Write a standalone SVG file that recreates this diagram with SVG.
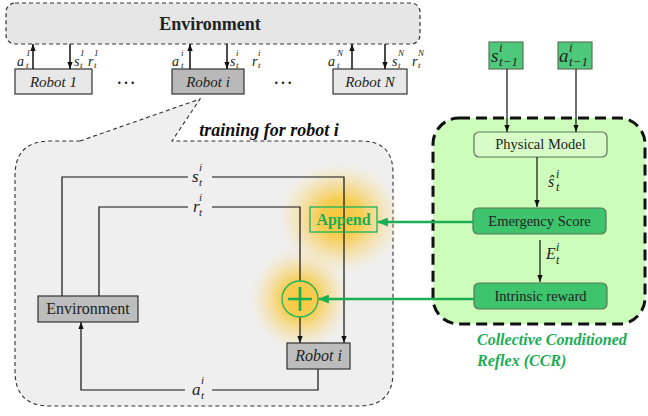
<svg xmlns="http://www.w3.org/2000/svg" width="648" height="416" viewBox="0 0 648 416">
<defs>
<style>
text{font-family:"Liberation Serif","Times New Roman","Nimbus Roman","DejaVu Serif",serif}
.ln{fill:none;stroke:#111;stroke-width:1.2}
.lnt{fill:none;stroke:#111;stroke-width:1.5}
.gr{fill:none;stroke:#1aae55;stroke-width:2.6}
.rt{fill:#222}
.it{font-style:italic;fill:#222}
.m{font-style:italic;fill:#222}
.box{stroke:#333;stroke-width:1.2}
.ccrb{stroke:#5d7658;stroke-width:1.2}
</style>
<marker id="ah" viewBox="0 0 8 6" refX="8" refY="3" markerWidth="7" markerHeight="6" markerUnits="userSpaceOnUse" orient="auto"><path d="M0,0 L8,3 L0,6 z" fill="#111"/></marker>
<marker id="ahg" viewBox="0 0 10 8" refX="9" refY="4" markerWidth="11" markerHeight="9" markerUnits="userSpaceOnUse" orient="auto"><path d="M0,0 L10,4 L0,8 z" fill="#1aae55"/></marker>
<radialGradient id="glow">
<stop offset="0" stop-color="#f8c52c" stop-opacity="0.95"/>
<stop offset="0.35" stop-color="#f8c83a" stop-opacity="0.85"/>
<stop offset="0.65" stop-color="#f9d060" stop-opacity="0.45"/>
<stop offset="1" stop-color="#fbe4a0" stop-opacity="0"/>
</radialGradient>
</defs>

<!-- Top environment -->
<g id="env-top">
<rect x="6" y="3" width="414" height="41" rx="9" fill="#e6e6e6" stroke="#333" stroke-width="1.2" stroke-dasharray="4 3"/>
<text x="210" y="30" text-anchor="middle" font-weight="bold" font-size="18" fill="#222">Environment</text>
</g>

<g id="robot1">
<rect x="15" y="69" width="77" height="25" fill="#e8e8e8" class="box"/>
<text x="53.5" y="87" text-anchor="middle" class="it" font-size="15">Robot 1</text>
</g>
<g id="roboti-top">
<rect x="172" y="69" width="72" height="25" fill="#b9b9b9" class="box"/>
<text x="208" y="87" text-anchor="middle" class="it" font-size="15">Robot i</text>
</g>
<g id="robotN">
<rect x="333" y="69" width="74" height="25" fill="#e8e8e8" class="box"/>
<text x="370" y="87" text-anchor="middle" class="it" font-size="15">Robot N</text>
</g>
<text x="126" y="84" text-anchor="middle" class="rt" font-size="20">…</text>
<text x="283" y="84" text-anchor="middle" class="rt" font-size="20">…</text>

<!-- top connectors -->
<g id="top-connectors">
<line x1="33" y1="69" x2="33" y2="44" class="lnt" marker-end="url(#ah)"/>
<line x1="70" y1="44" x2="70" y2="69" class="lnt" marker-end="url(#ah)"/>
<line x1="190" y1="69" x2="190" y2="44" class="lnt" marker-end="url(#ah)"/>
<line x1="227" y1="44" x2="227" y2="69" class="lnt" marker-end="url(#ah)"/>
<line x1="352" y1="69" x2="352" y2="44" class="lnt" marker-end="url(#ah)"/>
<line x1="385" y1="44" x2="385" y2="69" class="lnt" marker-end="url(#ah)"/>
</g>
<g id="top-labels">
<text x="17" y="66" font-size="14" class="m">a</text><text x="26" y="56" font-size="9" class="m">1</text><text x="26" y="68" font-size="9" class="m">t</text>
<text x="74" y="66" font-size="14" class="m">s</text><text x="80" y="56" font-size="9" class="m">1</text><text x="80" y="68" font-size="9" class="m">t</text>
<text x="88" y="66" font-size="14" class="m">r</text><text x="94" y="56" font-size="9" class="m">1</text><text x="94" y="68" font-size="9" class="m">t</text>

<text x="172" y="66" font-size="14" class="m">a</text><text x="181" y="56" font-size="9" class="m">i</text><text x="181" y="68" font-size="9" class="m">t</text>
<text x="230" y="66" font-size="14" class="m">s</text><text x="236" y="56" font-size="9" class="m">i</text><text x="236" y="68" font-size="9" class="m">t</text>
<text x="252" y="66" font-size="14" class="m">r</text><text x="258" y="56" font-size="9" class="m">i</text><text x="258" y="68" font-size="9" class="m">t</text>

<text x="328" y="66" font-size="14" class="m">a</text><text x="337" y="56" font-size="9" class="m">N</text><text x="337" y="68" font-size="9" class="m">t</text>
<text x="392" y="66" font-size="14" class="m">s</text><text x="398" y="56" font-size="9" class="m">N</text><text x="398" y="68" font-size="9" class="m">t</text>
<text x="412" y="66" font-size="14" class="m">r</text><text x="418" y="56" font-size="9" class="m">N</text><text x="418" y="68" font-size="9" class="m">t</text>
</g>

<!-- callout -->
<g id="callout">
<path d="M80 141 L200 99 L172 141 L361 141 Q393 141 393 173 L393 372 Q393 406 359 406 L50 406 Q15 406 15 371 L15 176 Q15 141 50 141 Z" fill="#efefef" stroke="none"/>
<path d="M80 141 L200 99 L172 141 L361 141 Q393 141 393 173 L393 372 Q393 406 359 406 L50 406 Q15 406 15 371 L15 176 Q15 141 50 141 L80 141" fill="none" stroke="#333" stroke-width="1.1" stroke-dasharray="4 3"/>
<text x="269" y="136" text-anchor="middle" font-weight="bold" font-style="italic" font-size="18" fill="#111">training for robot i</text>
</g>

<!-- glows -->
<ellipse cx="340" cy="218" rx="62" ry="56" fill="url(#glow)"/>
<ellipse cx="300" cy="299" rx="50" ry="52" fill="url(#glow)"/>

<!-- inner connectors -->
<g id="inner-connectors">
<polyline points="62,296 62,177 188,177" class="ln"/>
<polyline points="212,177 344,177 344,343" class="ln" marker-end="url(#ah)"/>
<polyline points="99,296 99,207 188,207" class="ln"/>
<polyline points="212,207 300,207 300,281" class="ln"/>
<line x1="300" y1="317" x2="300" y2="343" class="ln" marker-end="url(#ah)"/>
<polyline points="318,369 318,390 212,390" class="ln"/>
<polyline points="185,390 81,390 81,322" class="ln" marker-end="url(#ah)"/>
</g>
<g id="inner-labels">
<text x="192" y="182" font-size="17" class="m">s</text><text x="199" y="171" font-size="11" class="m">i</text><text x="199" y="186" font-size="11" class="m">t</text>
<text x="193" y="212" font-size="17" class="m">r</text><text x="199" y="201" font-size="11" class="m">i</text><text x="199" y="216" font-size="11" class="m">t</text>
<text x="192" y="395" font-size="17" class="m">a</text><text x="201" y="384" font-size="11" class="m">i</text><text x="201" y="399" font-size="11" class="m">t</text>
</g>

<g id="env-inner">
<rect x="38" y="296" width="100" height="26" fill="#bdbdbd" class="box"/>
<text x="88" y="314" text-anchor="middle" class="rt" font-size="16">Environment</text>
</g>
<g id="robot-inner">
<rect x="287" y="343" width="63" height="26" fill="#bdbdbd" class="box"/>
<text x="318.5" y="361" text-anchor="middle" class="it" font-size="16">Robot i</text>
</g>
<g id="append">
<rect x="310" y="207" width="67" height="25" fill="none" stroke="#1db35a" stroke-width="1.3"/>
<text x="343.5" y="225" text-anchor="middle" font-weight="bold" font-size="16" fill="#1aae55">Append</text>
</g>
<g id="plus">
<circle cx="300" cy="299" r="18" fill="none" stroke="#1db35a" stroke-width="1.3"/>
<path d="M288 299 H312 M300 287 V311" stroke="#1aae55" stroke-width="2.6"/>
</g>

<!-- CCR -->
<g id="ccr">
<rect x="433" y="118" width="212" height="206" rx="26" fill="#ccfdba" stroke="#111" stroke-width="3" stroke-dasharray="11 6"/>
<text x="477" y="345" font-weight="bold" font-style="italic" font-size="16" fill="#1aae55">Collective Conditioned</text>
<text x="477" y="366" font-weight="bold" font-style="italic" font-size="16" fill="#1aae55">Reflex (CCR)</text>
</g>
<g id="s-prev">
<rect x="489" y="42" width="34" height="27" fill="#4ec97b" class="ccrb"/>
<text x="491" y="62" font-size="19" class="m">s</text><text x="499" y="52" font-size="13" class="m">i</text><text x="499" y="66" font-size="13" class="m">t−1</text>
</g>
<g id="a-prev">
<rect x="558" y="42" width="34" height="27" fill="#4ec97b" class="ccrb"/>
<text x="559" y="62" font-size="19" class="m">a</text><text x="569" y="52" font-size="13" class="m">i</text><text x="569" y="66" font-size="13" class="m">t−1</text>
</g>
<g id="physical-model">
<rect x="474" y="132" width="133" height="25" rx="5" fill="#d8fcc8" class="ccrb"/>
<text x="540.5" y="149" text-anchor="middle" class="rt" font-size="14.5">Physical Model</text>
</g>
<g id="emergency-score">
<rect x="473" y="208" width="133" height="26" rx="5" fill="#3dc46c" class="ccrb"/>
<text x="539.5" y="226" text-anchor="middle" class="rt" font-size="14.5">Emergency Score</text>
</g>
<g id="intrinsic-reward">
<rect x="474" y="283" width="133" height="26" rx="5" fill="#3dc46c" class="ccrb"/>
<text x="540.5" y="301" text-anchor="middle" class="rt" font-size="14.5">Intrinsic reward</text>
</g>
<g id="ccr-connectors">
<line x1="507" y1="69" x2="507" y2="132" class="ln" marker-end="url(#ah)"/>
<line x1="576" y1="69" x2="576" y2="132" class="ln" marker-end="url(#ah)"/>
<line x1="537" y1="157" x2="537" y2="207" class="ln" marker-end="url(#ah)"/>
<line x1="540" y1="240" x2="540" y2="282" class="ln" marker-end="url(#ah)"/>
<line x1="473" y1="222" x2="378" y2="222" class="gr" marker-end="url(#ahg)"/>
<line x1="474" y1="299" x2="319" y2="299" class="gr" marker-end="url(#ahg)"/>
</g>
<g id="ccr-labels">
<text x="548" y="187" font-size="16" class="m">ŝ</text><text x="556" y="178" font-size="12" class="m">i</text><text x="556" y="191" font-size="12" class="m">t</text>
<text x="546" y="259" font-size="16" class="m">E</text><text x="556" y="251" font-size="12" class="m">i</text><text x="556" y="264" font-size="12" class="m">t</text>
</g>
</svg>
